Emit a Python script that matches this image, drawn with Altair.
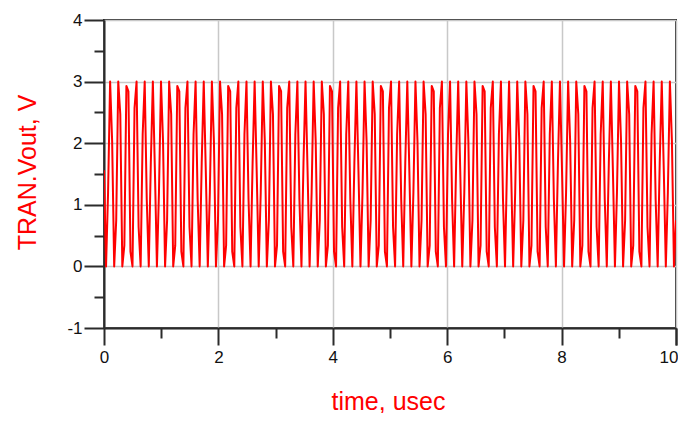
import altair as alt
import pandas as pd

# Sampled transient output (V), equally spaced over 0..10 usec
vout_v = [
    1.56, 0.00, 1.20, 3.00, 2.03, 0.00, 0.75, 3.00, 2.47, 0.00, 0.34, 2.93, 2.84, 0.24, 0.00, 2.57, 3.00, 0.64, 0.00, 2.14, 3.00, 1.09, 0.00, 1.68, 3.00,
    1.56, 0.00, 1.20, 3.00, 2.03, 0.00, 0.75, 3.00, 2.47, 0.00, 0.34, 2.93, 2.84, 0.24, 0.00, 2.57, 3.00, 0.64, 0.00, 2.14, 3.00, 1.09, 0.00, 1.68, 3.00,
    1.56, 0.00, 1.20, 3.00, 2.03, 0.00, 0.75, 3.00, 2.47, 0.00, 0.34, 2.93, 2.84, 0.24, 0.00, 2.57, 3.00, 0.64, 0.00, 2.14, 3.00, 1.09, 0.00, 1.68, 3.00,
    1.56, 0.00, 1.20, 3.00, 2.03, 0.00, 0.75, 3.00, 2.47, 0.00, 0.34, 2.93, 2.84, 0.24, 0.00, 2.57, 3.00, 0.64, 0.00, 2.14, 3.00, 1.09, 0.00, 1.68, 3.00,
    1.56, 0.00, 1.20, 3.00, 2.03, 0.00, 0.75, 3.00, 2.47, 0.00, 0.34, 2.93, 2.84, 0.24, 0.00, 2.57, 3.00, 0.64, 0.00, 2.14, 3.00, 1.09, 0.00, 1.68, 3.00,
    1.56, 0.00, 1.20, 3.00, 2.03, 0.00, 0.75, 3.00, 2.47, 0.00, 0.34, 2.93, 2.84, 0.24, 0.00, 2.57, 3.00, 0.64, 0.00, 2.14, 3.00, 1.09, 0.00, 1.68, 3.00,
    1.56, 0.00, 1.20, 3.00, 2.03, 0.00, 0.75, 3.00, 2.47, 0.00, 0.34, 2.93, 2.84, 0.24, 0.00, 2.57, 3.00, 0.64, 0.00, 2.14, 3.00, 1.09, 0.00, 1.68, 3.00,
    1.56, 0.00, 1.20, 3.00, 2.03, 0.00, 0.75, 3.00, 2.47, 0.00, 0.34, 2.93, 2.84, 0.24, 0.00, 2.57, 3.00, 0.64, 0.00, 2.14, 3.00, 1.09, 0.00, 1.68, 3.00,
    1.56, 0.00, 1.20, 3.00, 2.03, 0.00, 0.75, 3.00, 2.47, 0.00, 0.34, 2.93, 2.84, 0.24, 0.00, 2.57, 3.00, 0.64, 0.00, 2.14, 3.00, 1.09, 0.00, 1.68, 3.00,
    1.56, 0.00, 1.20, 3.00, 2.03, 0.00, 0.75, 3.00, 2.47, 0.00, 0.34, 2.93, 2.84, 0.24, 0.00, 2.57, 3.00, 0.64, 0.00, 2.14, 3.00, 1.09, 0.00, 1.68, 3.00,
    1.56, 0.00, 1.20, 3.00, 2.03, 0.00, 0.75, 3.00, 2.47, 0.00, 0.34, 2.93, 2.84, 0.24, 0.00, 2.57, 3.00, 0.64, 0.00, 2.14, 3.00, 1.09, 0.00, 1.68, 3.00,
    1.56, 0.00, 1.20, 3.00, 2.03, 0.00, 0.75,
]
t_start_us = 0.0
t_stop_us = 10.0

x_major = [0, 2, 4, 6, 8, 10]
x_minor = [1, 3, 5, 7, 9]
x_last = [10]
y_major = [-1, 0, 1, 2, 3, 4]
y_minor = [-0.5, 0.5, 1.5, 2.5, 3.5]

n = len(vout_v)
step = (t_stop_us - t_start_us) / (n - 1)
df = pd.DataFrame({"time": [t_start_us + i * step for i in range(n)], "vout": vout_v})

FONT = "Liberation Sans"
AX = "#2b2b2b"
GRID = "#c8c8c8"
LBL = dict(labelFont=FONT, labelFontSize=17, labelColor="#111111")

xs = alt.Scale(domain=[0, 10], nice=False, zero=False)
ys = alt.Scale(domain=[-1, 4], nice=False, zero=False)

minor = alt.Chart(df).mark_point(opacity=0).encode(
    x=alt.X("time:Q", scale=xs, axis=alt.Axis(
        orient="bottom", values=x_minor, labels=False, domain=False, grid=False,
        tickSize=10, tickWidth=2, tickColor=AX, title="")),
    y=alt.Y("vout:Q", scale=ys, axis=alt.Axis(
        orient="left", values=y_minor, labels=False, domain=False, grid=False,
        tickSize=10, tickWidth=2, tickColor=AX, title="")),
)

# last x label, kept inside the page's right edge
last = alt.Chart(df).mark_point(opacity=0).encode(
    x=alt.X("time:Q", scale=xs, axis=alt.Axis(
        orient="bottom", values=x_last, labelExpr="toString(datum.value)",
        domain=False, grid=False, tickSize=17, tickWidth=2, tickColor=AX,
        labelAlign="right", labelOffset=2, labelPadding=4, labelFlush=False,
        title="", **LBL)),
)

line = alt.Chart(df).mark_line(color="#ff0000", strokeWidth=2.0, strokeJoin="round",
                               clip=True).encode(
    x=alt.X("time:Q", scale=xs, axis=alt.Axis(
        orient="bottom", values=x_major,
        labelExpr="datum.value == 10 ? '' : toString(datum.value)",
        grid=True, gridColor=GRID, gridWidth=1.5,
        domainColor=AX, domainWidth=2, tickColor=AX, tickWidth=2, tickSize=17,
        labelPadding=4, labelFlush=False, labelOverlap=False, **LBL,
        title="time, usec", titleFont=FONT, titleFontSize=25, titleFontWeight="normal",
        titleColor="#ff0000", titleX=284, titleY=81, titleBaseline="alphabetic",
        titleAlign="center")),
    y=alt.Y("vout:Q", scale=ys, axis=alt.Axis(
        orient="left", values=y_major, labelExpr="toString(datum.value)",
        grid=True, gridColor=GRID, gridWidth=1.5,
        domainColor=AX, domainWidth=2, tickColor=AX, tickWidth=2, tickSize=20,
        labelPadding=2, labelFlush=False, labelOverlap=False, **LBL,
        title="TRAN.Vout, V", titleFont=FONT, titleFontSize=25, titleFontWeight="normal",
        titleColor="#ff0000", titleX=-69, titleY=152, titleAngle=270,
        titleBaseline="alphabetic", titleAlign="center")),
)

chart = alt.layer(minor, last, line).resolve_axis(x="independent", y="independent").properties(
    width=572, height=308,
    autosize=alt.AutoSizeParams(type="none"),
    padding={"left": 96, "top": 12, "right": 2, "bottom": 85},
    background="white",
).configure_view(stroke=AX, strokeWidth=2)

chart.save("out.html", embed_options={"renderer": "svg", "actions": False})
